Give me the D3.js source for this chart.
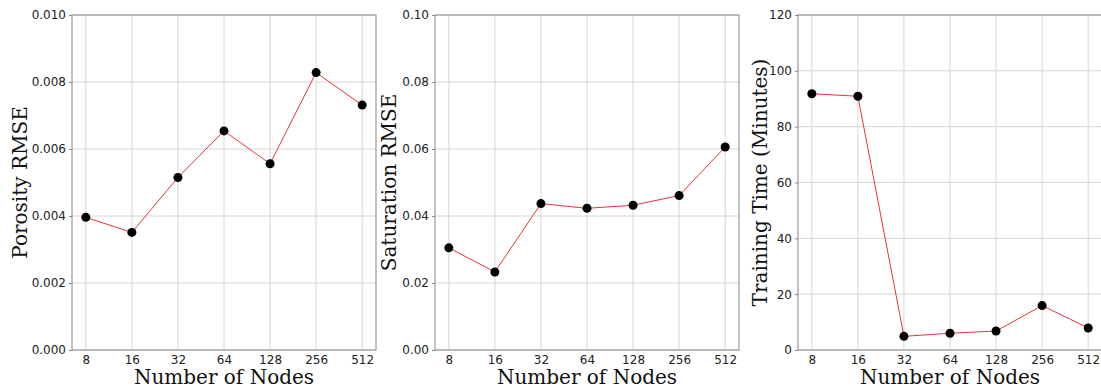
<!DOCTYPE html>
<html>
<head>
<meta charset="utf-8">
<script src="https://cdn.jsdelivr.net/npm/d3@7"></script>
<style>
  body { margin: 0; background: #fff; }
  svg { display: block; }
  .tick text { font-family: "DejaVu Sans", sans-serif; font-size: 12px; fill: #222; }
  .lbl { font-family: "DejaVu Serif", serif; font-size: 20px; fill: #111; }
</style>
</head>
<body>
<div id="chart"></div>
<script>
// node counts shared by all three panels
var nodes = ["8", "16", "32", "64", "128", "256", "512"];

var porosityRmse = [0.00396, 0.00351, 0.00515, 0.00654, 0.00556, 0.00828, 0.00731];
var saturationRmse = [0.0305, 0.0233, 0.0437, 0.0423, 0.0432, 0.0461, 0.0606];
var trainingMinutes = [91.8, 90.9, 4.9, 6.0, 6.8, 15.9, 7.9];

var porosityTicks = [0, 0.002, 0.004, 0.006, 0.008, 0.010];
var saturationTicks = [0, 0.02, 0.04, 0.06, 0.08, 0.10];
var timeTicks = [0, 20, 40, 60, 80, 100, 120];

var panels = [
  { left: 72, values: porosityRmse, ticks: porosityTicks, max: 0.010, fmt: d3.format(".3f"), ylabel: "Porosity RMSE", labelGap: 45 },
  { left: 435, values: saturationRmse, ticks: saturationTicks, max: 0.10, fmt: d3.format(".2f"), ylabel: "Saturation RMSE", labelGap: 39 },
  { left: 798, values: trainingMinutes, ticks: timeTicks, max: 120, fmt: d3.format("d"), ylabel: "Training Time (Minutes)", labelGap: 31 }
];

var W = 1101, H = 390, plotTop = 15, plotBottom = 350, pw = 304;

var svg = d3.select("#chart").append("svg").attr("width", W).attr("height", H);

panels.forEach(function(p) {
  var x = d3.scaleLinear().domain([-0.3, nodes.length - 0.7]).range([p.left, p.left + pw]);
  var y = d3.scaleLinear().domain([0, p.max]).range([plotBottom, plotTop]);
  var g = svg.append("g");

  // grid
  g.selectAll("line.vg").data(nodes).enter().append("line")
    .attr("x1", function(d, i) { return x(i); }).attr("x2", function(d, i) { return x(i); })
    .attr("y1", plotTop).attr("y2", plotBottom)
    .style("stroke", "#d6d6d6").style("stroke-width", 1);
  g.selectAll("line.hg").data(p.ticks).enter().append("line")
    .attr("x1", p.left).attr("x2", p.left + pw)
    .attr("y1", function(d) { return y(d); }).attr("y2", function(d) { return y(d); })
    .style("stroke", "#d6d6d6").style("stroke-width", 1);

  // axes
  var yAxis = d3.axisLeft(y).tickValues(p.ticks).tickFormat(p.fmt).tickSize(3).tickPadding(3);
  var ya = g.append("g").attr("transform", "translate(" + p.left + ",0)").call(yAxis);
  var xAxis = d3.axisBottom(x).tickValues(d3.range(nodes.length))
    .tickFormat(function(i) { return nodes[i]; }).tickSize(0).tickPadding(5);
  var xa = g.append("g").attr("transform", "translate(0," + plotBottom + ")").call(xAxis);
  [ya, xa].forEach(function(a) {
    a.select(".domain").remove();
    a.selectAll(".tick line").style("stroke", "#888");
  });

  // frame
  g.append("rect").attr("x", p.left).attr("y", plotTop).attr("width", pw).attr("height", plotBottom - plotTop)
    .style("fill", "none").style("stroke", "#888").style("stroke-width", 1);

  // data
  var line = d3.line().x(function(d, i) { return x(i); }).y(function(d) { return y(d); });
  g.append("path").datum(p.values).attr("d", line)
    .style("fill", "none").style("stroke", "#e8343c").style("stroke-width", 1);
  g.selectAll("circle").data(p.values).enter().append("circle")
    .attr("cx", function(d, i) { return x(i); }).attr("cy", function(d) { return y(d); })
    .attr("r", 4.5).style("fill", "#000");

  // labels
  g.append("text").attr("class", "lbl").attr("text-anchor", "middle")
    .attr("x", p.left + pw / 2).attr("y", 384).text("Number of Nodes");
  g.append("text").attr("class", "lbl").attr("text-anchor", "middle")
    .attr("transform", "translate(" + (p.left - p.labelGap) + "," + ((plotTop + plotBottom) / 2) + ") rotate(-90)")
    .text(p.ylabel);
});
</script>
</body>
</html>
